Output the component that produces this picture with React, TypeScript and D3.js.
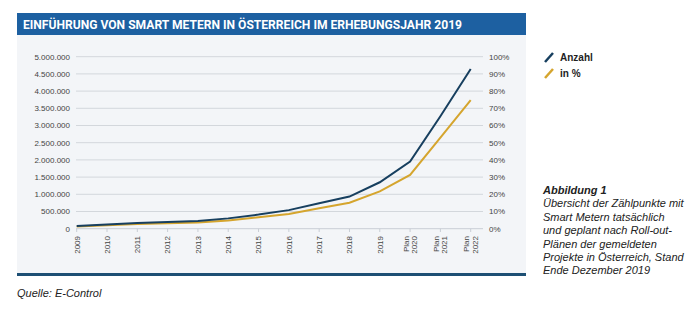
import React from "react";
import * as d3 from "d3";

const categories = ["2009","2010","2011","2012","2013","2014","2015","2016","2017","2018","2019","Plan 2020","Plan 2021","Plan 2022"];
const anzahl = [80000,125000,165000,195000,225000,300000,410000,540000,740000,935000,1350000,1950000,3270000,4640000];
const prozent = [1.3,2.0,2.7,3.1,3.6,4.8,6.6,8.6,11.9,15.1,21.7,31.3,53.0,74.8];
const leftTicks = [0,500000,1000000,1500000,2000000,2500000,3000000,3500000,4000000,4500000,5000000];
const rightTicks = [0,10,20,30,40,50,60,70,80,90,100];
const titleText = "EINFÜHRUNG VON SMART METERN IN ÖSTERREICH IM ERHEBUNGSJAHR 2019";
const legendLabels = ["Anzahl","in %"];
const captionTitle = "Abbildung 1";
const captionLines = ["Übersicht der Zählpunkte mit","Smart Metern tatsächlich","und geplant nach Roll-out-","Plänen der gemeldeten","Projekte in Österreich, Stand","Ende Dezember 2019"];
const sourceText = "Quelle: E-Control";

const BLUE = "#173f5f";
const GOLD = "#d5a52e";
const FONT = "'Liberation Sans', Arial, sans-serif";

export default function App() {
  const x = d3.scalePoint<string>().domain(categories).range([76.7, 470.7]);
  const yL = d3.scaleLinear().domain([0, 5000000]).range([228.7, 56.7]);
  const yR = d3.scaleLinear().domain([0, 100]).range([228.7, 56.7]);
  const loc = d3.formatLocale({ thousands: ".", grouping: [3], decimal: ",", currency: ["", "€"] });
  const fmt = loc.format(",");

  const lineL = d3.line<number>().x((_, i) => x(categories[i])!).y((d) => yL(d));
  const lineR = d3.line<number>().x((_, i) => x(categories[i])!).y((d) => yR(d));

  return (
    <div style={{ position: "absolute", left: 0, top: 0 }}>
      <svg width={700} height={326} style={{ display: "block", fontFamily: FONT }}>
        <rect x={0} y={0} width={700} height={326} fill="#ffffff" />
        <rect x={17} y={35} width={509} height={238} fill="#f3f5f8" />
        <rect x={17} y={13} width={509} height={22} fill="#1d60a1" />
        <rect x={17} y={273} width={509} height={3} fill="#1d4f74" />
        <text x={23} y={28.5} fill="#fff" fontSize={12.5} fontWeight="bold" textLength={439} lengthAdjust="spacingAndGlyphs" fontFamily="Roboto, 'Liberation Sans', sans-serif">{titleText}</text>

        {leftTicks.map((t) => (
          <line key={"g" + t} x1={76} x2={483} y1={yL(t)} y2={yL(t)} stroke={t === 0 ? "#c9ced5" : "#d3d7dc"} strokeWidth={1} />
        ))}
        {categories.map((c) => (
          <line key={"tk" + c} x1={x(c)} x2={x(c)} y1={228.7} y2={232} stroke="#c9ced5" strokeWidth={1} />
        ))}
        {leftTicks.map((t) => (
          <text key={"l" + t} x={70} y={yL(t)} dy="0.35em" textAnchor="end" fontSize={8} fill="#444">{fmt(t)}</text>
        ))}
        {rightTicks.map((t) => (
          <text key={"r" + t} x={489} y={yR(t)} dy="0.35em" textAnchor="start" fontSize={8} fill="#444">{t + "%"}</text>
        ))}
        {categories.map((c) => {
          const parts = c.split(" ");
          const cx = x(c)!;
          return (
            <text key={"x" + c} transform={`translate(${cx},236) rotate(-90)`} textAnchor="end" fontSize={8} fill="#444">
              {parts.length === 1 ? (
                <tspan x={0} dy="0.35em">{parts[0]}</tspan>
              ) : (
                <>
                  <tspan x={0} dy="-0.18em">{parts[0]}</tspan>
                  <tspan x={0} dy="1.06em">{parts[1]}</tspan>
                </>
              )}
            </text>
          );
        })}

        <path d={lineR(prozent)!} fill="none" stroke={GOLD} strokeWidth={2} />
        <path d={lineL(anzahl)!} fill="none" stroke={BLUE} strokeWidth={2} />

        <line x1={545} y1={62} x2={553} y2={53} stroke={BLUE} strokeWidth={2.5} />
        <text x={560} y={61} fontSize={10} fontWeight="bold" fill="#222">{legendLabels[0]}</text>
        <line x1={545} y1={78} x2={553} y2={69} stroke={GOLD} strokeWidth={2.5} />
        <text x={560} y={77} fontSize={10} fontWeight="bold" fill="#222">{legendLabels[1]}</text>

        <text x={543} y={194} fontSize={11} fontWeight="bold" fontStyle="italic" fill="#222">{captionTitle}</text>
        {captionLines.map((l, i) => (
          <text key={"c" + i} x={543} y={194 + 13.4 * (i + 1)} fontSize={11} fontStyle="italic" fill="#222">{l}</text>
        ))}
        <text x={17} y={297} fontSize={11} fontStyle="italic" fill="#222">{sourceText}</text>
      </svg>
    </div>
  );
}
